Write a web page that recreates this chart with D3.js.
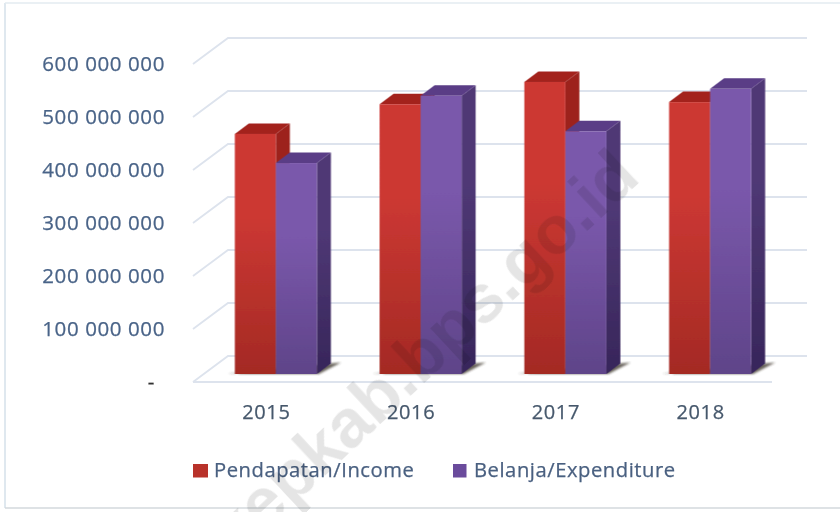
<!DOCTYPE html>
<html>
<head>
<meta charset="utf-8">
<script src="https://cdn.jsdelivr.net/npm/d3@7"></script>
<style>
html,body{margin:0;padding:0;background:#fff;overflow:hidden}
svg{display:block}
text{font-family:"Open Sans",sans-serif}
</style>
</head>
<body>
<svg id="c" width="840" height="512"></svg>
<script>
const years = ["2015","2016","2017","2018"];
const income = [453000000,509000000,551000000,513000000];
const expenditure = [398000000,525000000,458000000,538000000];
const yTicks = [0,100000000,200000000,300000000,400000000,500000000,600000000];
const seriesNames = ["Pendapatan/Income","Belanja/Expenditure"];
const watermark = "kepkab.bps.go.id";

const svg = d3.select("#c");
const defs = svg.append("defs");
function grad(id,a,b){
  const g = defs.append("linearGradient").attr("id",id).attr("x1",0).attr("y1",0).attr("x2",0).attr("y2",1);
  g.append("stop").attr("offset","0").attr("stop-color",a);
  g.append("stop").attr("offset","0.35").attr("stop-color",a);
  g.append("stop").attr("offset","1").attr("stop-color",b);
}
grad("redF","#cc3833","#a42a24");
grad("redS","#9d241f","#7c1a16");
grad("purF","#7a58ab","#5f4489");
grad("purS","#4f3875","#37265a");
defs.append("filter").attr("id","soft").append("feGaussianBlur").attr("stdDeviation",0.6);
defs.append("filter").attr("id","softT").append("feGaussianBlur").attr("stdDeviation",0.35);
defs.append("filter").attr("id","shad").append("feGaussianBlur").attr("stdDeviation",1.3);

// frame
const frame = svg.append("g").attr("filter","url(#soft)");
frame.append("line").attr("x1",5).attr("x2",5).attr("y1",3).attr("y2",508).attr("stroke","#d5e1ea").attr("stroke-width",1.5);
frame.append("line").attr("x1",5).attr("x2",840).attr("y1",3).attr("y2",3).attr("stroke","#e3ebf1").attr("stroke-width",1.5);
frame.append("line").attr("x1",5).attr("x2",840).attr("y1",508).attr("y2",508).attr("stroke","#d3d9dc").attr("stroke-width",1.5);

// scales
const depthX = 35, depthY = 26;
const x = d3.scaleBand().domain(years).range([193,772]).paddingInner(0.433).paddingOuter(0.2165);
const inner = d3.scaleBand().domain([0,1]).range([0,x.bandwidth()]);
const y = d3.scaleLinear().domain([0,600000000]).range([382,64]);

// grid: side wall and back wall
const grid = svg.append("g").attr("filter","url(#soft)").attr("fill","none").attr("stroke","#dde3ed").attr("stroke-width",1.8);
yTicks.forEach(t=>{
  const p = [[x.range()[0],y(t)],[x.range()[0]+depthX,y(t)-depthY],[x.range()[1]+depthX,y(t)-depthY]];
  grid.append("path").attr("d",d3.line()(p));
});
grid.append("path").attr("d",d3.line()([[x.range()[0],y(0)],[x.range()[1],y(0)]]));

// bars
const barDX = 10.5, barDY = -8, sideX = 14, sideY = 10.5;
const bars = svg.append("g").attr("transform",`translate(${barDX},${barDY})`).attr("filter","url(#softT)");
const series = [
  {vals:income,f:"url(#redF)",s:"url(#redS)",t:"#a3241f"},
  {vals:expenditure,f:"url(#purF)",s:"url(#purS)",t:"#5a3d86"}
];
const poly = d3.line();
years.forEach((yr,i)=>{
  const gx = x(yr);
  const x0 = gx+inner(1)+inner.bandwidth();
  bars.append("path").attr("filter","url(#shad)").attr("fill","#4d463c").attr("opacity",0.85)
    .attr("d",poly([[gx-7,y(0)],[gx+4,y(0)-2],[gx+4,y(0)],[x0+2,y(0)],[x0+sideX+10,y(0)-sideY-1],[x0+sideX,y(0)-sideY]])+"Z");
  series.forEach((s,k)=>{
    const l = gx+inner(k), r = l+inner.bandwidth(), top = y(s.vals[i]), base = y(0);
    const g = bars.append("g");
    g.append("path").attr("fill",s.s).attr("d",poly([[r,top],[r+sideX,top-sideY],[r+sideX,base-sideY],[r,base]])+"Z");
    g.append("path").attr("fill",s.t).attr("d",poly([[l,top],[l+sideX,top-sideY],[r+sideX,top-sideY],[r,top]])+"Z");
    g.append("rect").attr("x",l).attr("y",top).attr("width",r-l).attr("height",base-top).attr("fill",s.f);
  });
});

// y axis
const fmt = v => v===0 ? "-" : d3.format(",")(v).replace(/,/g," ");
const yAxis = svg.append("g").attr("transform","translate(165,0)").attr("filter","url(#softT)")
  .call(d3.axisLeft(y).tickValues(yTicks).tickFormat(fmt).tickSize(0).tickPadding(0));
yAxis.select(".domain").remove();
yAxis.selectAll("text").attr("font-family","'Open Sans',sans-serif").attr("font-size",20.5).attr("letter-spacing",0.6)
  .attr("stroke-width",0.25).attr("stroke",d=>d===0?"#333":"#4a6488")
  .attr("dx",d=>d===0?-10:0).attr("fill",d=>d===0?"#333":"#4a6488");

// x axis
const xAxis = svg.append("g").attr("transform","translate(1,404.5)").attr("filter","url(#softT)")
  .call(d3.axisBottom(x).tickSize(0).tickPadding(0));
xAxis.select(".domain").remove();
xAxis.selectAll("text").attr("font-family","'Open Sans',sans-serif").attr("font-size",20).attr("fill","#46586c").attr("letter-spacing",0.6)
  .attr("stroke","#46586c").attr("stroke-width",0.25);

// legend
const legend = svg.append("g").attr("filter","url(#softT)");
const legX = [193,453], legTx = [214,474], legF = ["#b8302b","#6b4b9c"];
seriesNames.forEach((n,i)=>{
  legend.append("rect").attr("x",legX[i]).attr("y",464).attr("width",i?13.5:15).attr("height",13.5).attr("fill",legF[i]);
  legend.append("text").attr("x",legTx[i]).attr("y",477).attr("font-size",20.2).attr("letter-spacing",0.55)
    .attr("fill","#4a6080").attr("stroke","#4a6080").attr("stroke-width",0.25).text(n);
});

// watermark
svg.append("text").attr("transform","translate(642,180) rotate(-43)").attr("text-anchor","end")
  .attr("font-weight","bold").attr("font-size",68)
  .attr("fill","#000").attr("fill-opacity",0.1).style("font-family","'Liberation Sans',sans-serif").text(watermark);
</script>
</body>
</html>
